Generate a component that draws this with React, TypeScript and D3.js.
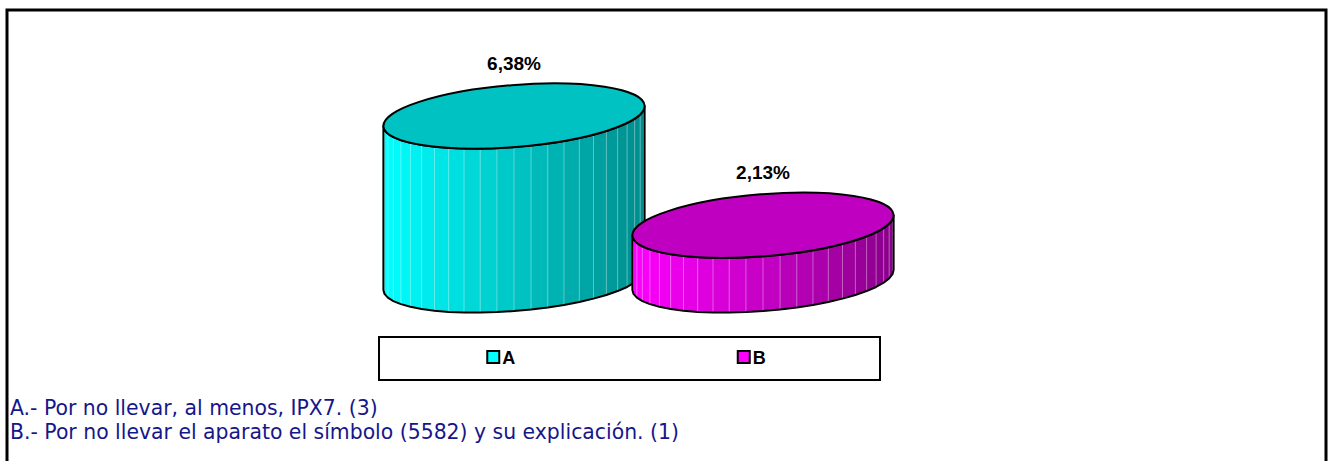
import * as d3 from "d3";

const categories = ["A", "B"];
const values = [6.38, 2.13];
const notes = [
  "A.- Por no llevar, al menos, IPX7. (3)",
  "B.- Por no llevar el aparato el símbolo (5582) y su explicación. (1)",
];

const W = 1328;
const H = 461;

// colours per category: top face, side light (left), side dark (right), legend swatch
const COLORS = [
  { top: "#00C2C2", light: "#00FFFF", dark: "#008C8C", swatch: "#00FFFF" },
  { top: "#C000C0", light: "#FF00FF", dark: "#8A008A", swatch: "#FF00FF" },
];

const RX = 131; // half width of the cylinder top
const RY = 31; // half depth of the ellipse
const PHI = (-4.6 * Math.PI) / 180; // slight tilt of the 3d view
const BASE_Y = 280;
const FACETS = 24;

const locale = d3.formatLocale({ decimal: ",", thousands: ".", grouping: [3], currency: ["", "€"] });
const fmt = locale.format(".2f");

const xScale = d3.scalePoint<string>().domain(categories).range([389.5, 887.5]).padding(0.5);
const yScale = d3.scaleLinear().domain([0, 7]).range([BASE_Y, BASE_Y - 7 * 25.7]);

const ellPt = (cx: number, cy: number, t: number): [number, number] => [
  cx + RX * Math.cos(t) * Math.cos(PHI) - RY * Math.sin(t) * Math.sin(PHI),
  cy + RX * Math.cos(t) * Math.sin(PHI) + RY * Math.sin(t) * Math.cos(PHI),
];

// parameter where the ellipse has a vertical tangent (right side)
const T0 = Math.atan(-(RY * Math.sin(PHI)) / (RX * Math.cos(PHI)));

const Cylinder = ({ cat, value, i }: { cat: string; value: number; i: number }) => {
  const cx = xScale(cat) as number;
  const topY = yScale(value);
  const botY = yScale(0);
  const col = COLORS[i];
  const ts = d3.range(FACETS + 1).map((k) => Math.PI + T0 - (k / FACETS) * Math.PI);
  const xL = ellPt(cx, topY, ts[0])[0];
  const xR = ellPt(cx, topY, ts[FACETS])[0];
  const shade = d3.interpolateRgb(col.light, col.dark);

  const facets = d3.range(FACETS).map((k) => {
    const p0 = ellPt(cx, topY, ts[k]);
    const p1 = ellPt(cx, topY, ts[k + 1]);
    const q1 = ellPt(cx, botY, ts[k + 1]);
    const q0 = ellPt(cx, botY, ts[k]);
    const c = shade(((p0[0] + p1[0]) / 2 - xL) / (xR - xL));
    return <path key={k} d={`M${p0}L${p1}L${q1}L${q0}Z`} fill={c} stroke={c} strokeWidth={0.6} />;
  });

  const seams = d3.range(1, FACETS).map((k) => {
    const p = ellPt(cx, topY, ts[k]);
    const q = ellPt(cx, botY, ts[k]);
    return <line key={k} x1={p[0]} y1={p[1]} x2={q[0]} y2={q[1]} stroke="#ffffff" strokeOpacity={0.35} strokeWidth={1} />;
  });

  const line = d3.line();
  const topArc = ts.map((t) => ellPt(cx, topY, t));
  const botArc = ts.map((t) => ellPt(cx, botY, t)).reverse();
  const outline = line([...topArc, ...botArc]) + "Z";

  return (
    <g>
      {facets}
      {seams}
      <path d={outline} fill="none" stroke="#000" strokeWidth={2} strokeLinejoin="round" />
      <ellipse
        cx={cx}
        cy={topY}
        rx={RX}
        ry={RY}
        transform={`rotate(${(PHI * 180) / Math.PI} ${cx} ${topY})`}
        fill={col.top}
        stroke="#000"
        strokeWidth={2}
      />
      <text
        x={cx}
        y={topY - 46}
        textAnchor="middle"
        fontFamily="'Liberation Sans', Arial, sans-serif"
        fontWeight="bold"
        fontSize={19}
        fill="#000"
      >
        {fmt(value) + "%"}
      </text>
    </g>
  );
};

export default function App() {
  const legend = d3.scaleBand<string>().domain(categories).range([379, 880]);
  return (
    <svg width={W} height={H} style={{ position: "absolute", left: 0, top: 0, background: "#fff" }}>
      <path d={`M7,${H + 5}V10H1326V${H + 5}`} fill="none" stroke="#000" strokeWidth={3} />
      {categories.map((c, i) => (
        <Cylinder key={c} cat={c} value={values[i]} i={i} />
      ))}
      <rect x={379} y={337} width={501} height={43} fill="#fff" stroke="#000" strokeWidth={2} />
      {categories.map((c, i) => {
        const mid = (legend(c) as number) + legend.bandwidth() / 2;
        return (
          <g key={c} transform={`translate(${mid - 15},357)`}>
            <rect x={-2} y={-6} width={12} height={12} fill={COLORS[i].swatch} stroke="#000" strokeWidth={2} />
            <text
              x={13}
              y={6.5}
              fontFamily="'Liberation Sans', Arial, sans-serif"
              fontWeight="bold"
              fontSize={18}
              fill="#000"
            >
              {c}
            </text>
          </g>
        );
      })}
      {notes.map((n, i) => (
        <text key={i} x={10} y={415 + i * 24} fontFamily="'DejaVu Sans', Verdana, sans-serif" fontSize={20.4} fill="#16168a">
          {n}
        </text>
      ))}
    </svg>
  );
}
